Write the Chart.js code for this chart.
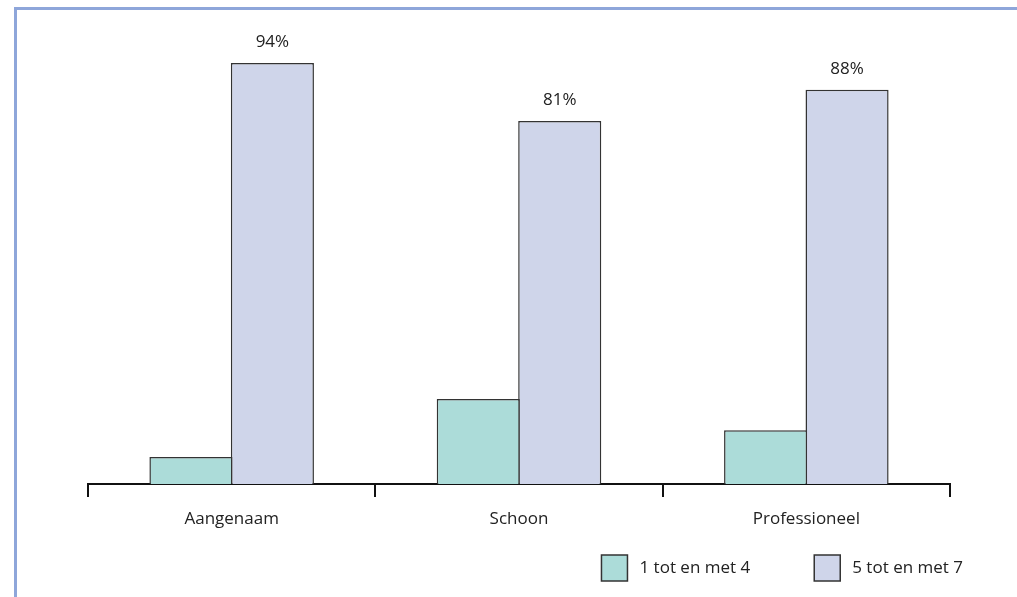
<!DOCTYPE html>
<html>
<head>
<meta charset="utf-8">
<script src="https://cdn.jsdelivr.net/npm/chart.js@4/dist/chart.umd.min.js"></script>
<style>
  html, body { margin: 0; padding: 0; background: #fff; }
  #wrap { position: relative; width: 1017px; height: 597px; overflow: hidden; }
  #frame {
    position: absolute; left: 14px; top: 7px; right: -10px; bottom: -10px;
    border-top: 3px solid #8ea6da; border-left: 3px solid #8ea6da;
  }
  canvas { position: absolute; left: 0; top: 0; }
</style>
</head>
<body>
<div id="wrap">
  <div id="frame"></div>
  <canvas id="c" width="1017" height="597"></canvas>
</div>
<script>
// Ratings per aspect, share of respondents (%)
const categories = ['Aangenaam', 'Schoon', 'Professioneel'];
const seriesNames = ['1 tot en met 4', '5 tot en met 7'];
const lowScores = [6, 19, 12];
const highScores = [94, 81, 88];
const seriesColors = ['#acdcd9', '#cfd5ea'];

const FONT = '"Open Sans", "Noto Sans", sans-serif';
const FONT_SIZE = 17;

// Percentage labels above the "5 tot en met 7" bars
const valueLabels = {
  id: 'valueLabels',
  afterDatasetsDraw(chart) {
    const ctx = chart.ctx;
    const meta = chart.getDatasetMeta(1);
    const values = chart.data.datasets[1].data;
    ctx.save();
    ctx.font = FONT_SIZE + 'px ' + FONT;
    ctx.fillStyle = '#222';
    ctx.textAlign = 'center';
    ctx.textBaseline = 'middle';
    meta.data.forEach((bar, i) => {
      ctx.fillText(values[i] + '%', bar.x, bar.y - 21);
    });
    ctx.restore();
  }
};

// Legend in the bottom-right corner
const cornerLegend = {
  id: 'cornerLegend',
  afterDraw(chart) {
    const ctx = chart.ctx;
    const ds = chart.data.datasets;
    const box = 26, gapText = 12, gapItem = 64, right = 963, cy = 568;
    ctx.save();
    ctx.font = FONT_SIZE + 'px ' + FONT;
    ctx.textBaseline = 'middle';
    let x = right;
    const items = [];
    for (let i = ds.length - 1; i >= 0; i--) {
      const w = ctx.measureText(ds[i].label).width;
      const tx = x - w;
      const bx = tx - gapText - box;
      items.push({ i, tx, bx });
      x = bx - gapItem;
    }
    items.forEach(({ i, tx, bx }) => {
      ctx.fillStyle = ds[i].backgroundColor;
      ctx.fillRect(bx, cy - box / 2, box, box);
      ctx.lineWidth = 1.5;
      ctx.strokeStyle = '#333';
      ctx.strokeRect(bx, cy - box / 2, box, box);
      ctx.fillStyle = '#222';
      ctx.fillText(ds[i].label, tx, cy);
    });
    ctx.restore();
  }
};

new Chart(document.getElementById('c'), {
  type: 'bar',
  data: {
    labels: categories,
    datasets: [
      { label: seriesNames[0], data: lowScores, backgroundColor: seriesColors[0] },
      { label: seriesNames[1], data: highScores, backgroundColor: seriesColors[1] }
    ]
  },
  options: {
    responsive: false,
    animation: false,
    layout: { padding: { left: 88, right: 67, top: 36, bottom: 0 } },
    datasets: {
      bar: {
        borderColor: '#333',
        borderWidth: 1.5,
        borderSkipped: 'bottom',
        categoryPercentage: 0.567,
        barPercentage: 1.02
      }
    },
    plugins: {
      legend: { display: false },
      tooltip: { enabled: false }
    },
    scales: {
      x: {
        offset: true,
        grid: {
          display: true,
          offset: true,
          drawOnChartArea: false,
          drawTicks: true,
          tickLength: 13,
          color: '#111',
          lineWidth: 2
        },
        border: { display: true, color: '#111', width: 2 },
        ticks: {
          color: '#222',
          font: { family: FONT, size: FONT_SIZE },
          padding: 12
        },
        afterFit(scale) { scale.height = 113; }
      },
      y: {
        display: false,
        min: 0,
        max: 100
      }
    }
  },
  plugins: [valueLabels, cornerLegend]
});
</script>
</body>
</html>
